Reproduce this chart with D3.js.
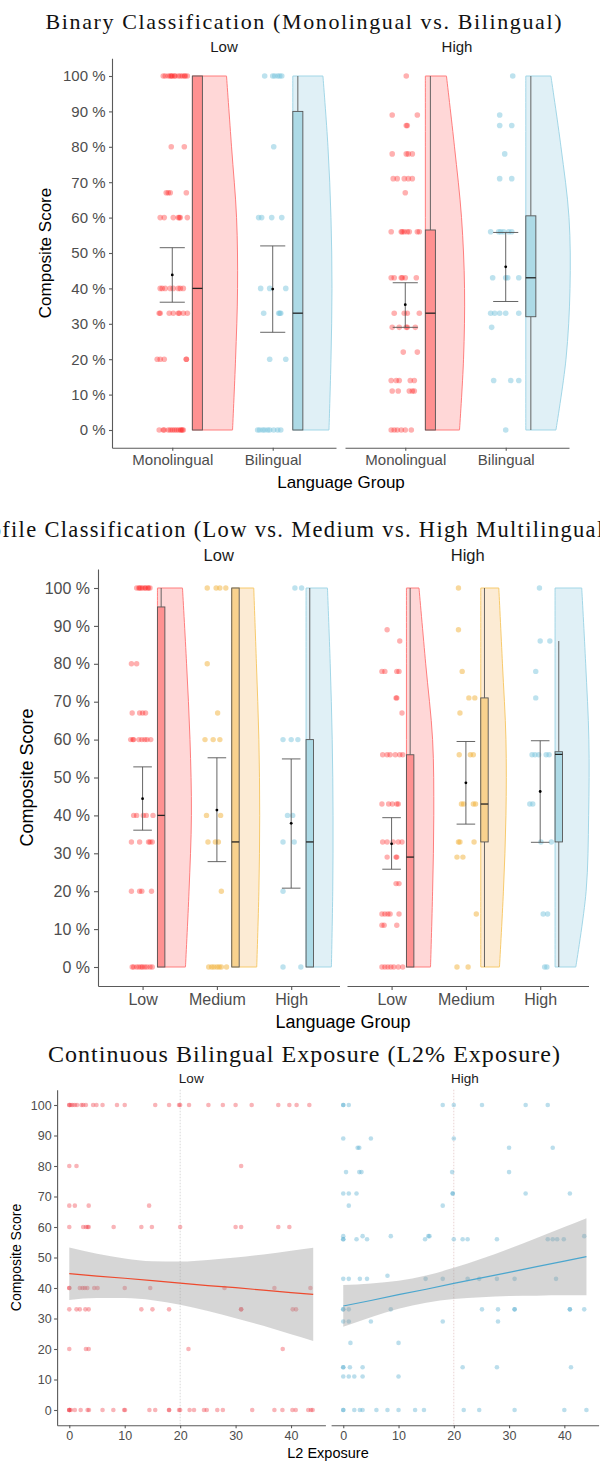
<!DOCTYPE html>
<html>
<head>
<meta charset="utf-8">
<script src="https://cdn.jsdelivr.net/npm/d3@7"></script>
<style>
  body { margin: 0; background: #fff; }
  svg { display: block; }
</style>
</head>
<body>
<svg id="chart" width="600" height="1463"></svg>
<script>
// ---------------- data ----------------
const facets = ["Low", "High"];
const binaryGroups = ["Monolingual", "Bilingual"];
const profileGroups = ["Low", "Medium", "High"];
const scoreTicks = [0, 10, 20, 30, 40, 50, 60, 70, 80, 90, 100];
const exposureTicks = [0, 10, 20, 30, 40];

// Box statistics per group: [lower whisker, Q1, median, Q3, upper whisker]
const binaryBoxLow  = [[0, 0, 40, 100, 100], [0, 0, 33, 90, 100]];
const binaryBoxHigh = [[0, 0, 33, 56.5, 100], [0, 32, 43, 60.5, 100]];
const profileBoxLow  = [[0, 0, 40, 95, 100], [0, 0, 33, 100, 100], [0, 0, 33, 60, 100]];
const profileBoxHigh = [[0, 0, 29, 56, 100], [0, 33, 43, 71, 100], [0, 33, 56.1, 56.8, 86]];

// Mean with interval per group: [mean, lower, upper]
const binaryMeanLow  = [[43.8, 36.1, 51.5], [39.8, 27.6, 52.0]];
const binaryMeanHigh = [[35.4, 29.0, 41.6], [46.1, 36.3, 55.8]];
const profileMeanLow  = [[44.4, 36.1, 52.8], [41.4, 27.8, 55.2], [37.9, 20.8, 54.9]];
const profileMeanHigh = [[32.5, 25.8, 39.4], [48.6, 37.7, 59.5], [46.3, 32.9, 59.7]];

// Half-violin density width (category units) at each score level
const violinLevels = [0, 20, 40, 60, 80, 100];
const binaryViolinLow  = [[.40, .43, .45, .44, .39, .34], [.36, .38, .39, .38, .35, .30]];
const binaryViolinHigh = [[.34, .38, .39, .36, .29, .21], [.30, .40, .44, .43, .35, .25]];
const profileViolinLow  = [[.377, .425, .457, .438, .392, .337], [.336, .365, .376, .365, .332, .296], [.341, .359, .363, .352, .325, .288]];
const profileViolinHigh = [[.324, .352, .368, .352, .259, .169], [.252, .305, .339, .339, .292, .243], [.279, .418, .452, .455, .412, .359]];

// Observations: score -> horizontal jitter of each point (category units)
const binaryPtsLow = [
  {100: [-.09, -.07, -.04, -.02, -.01, 0, .02, .03, .06, .08, .10, .12, .13, .15], 80: [-.01, .12], 67: [-.06, -.04, -.02, .14],
   60: [-.12, -.08, .01, .06, .07, .08, .15], 40: [-.12, -.10, -.07, -.02, .01, .06, .08, .11], 33: [-.13, -.12, -.03, .01, .06, .07, .11, .15],
   20: [-.15, -.12, -.08, .14, .14], 0: [-.13, -.09, -.08, -.04, -.02, 0, .02, .04, .06, .08, .09, .10, .11]},
  {100: [-.08, 0, .02, .05, .07, .09], 80: [.01], 60: [-.14, -.11, -.01, .09], 40: [-.12, -.03, .13], 33: [-.09, .06, .07, .08],
   20: [-.03, .13], 0: [-.15, -.13, -.10, -.08, -.05, -.03, .01, .05, .08]}
];
const binaryPtsHigh = [
  {100: [.01], 89: [-.13, .12], 86: [.01, .02], 78: [-.13, .01, .03, .07], 71: [-.12, -.08, -.01, .03, .07], 67: [0],
   56: [-.14, -.04, -.03, -.01, .02, .04, .12, .14], 43: [-.14, -.11, -.04, -.03, 0, .11], 33: [-.11, -.01, .02, .14],
   29: [-.13, -.06, .01, .02, .10], 22: [-.02, .12], 14: [-.14, -.09, -.06, .05, .09], 11: [-.13, -.07, .04, .07, .09],
   0: [-.14, -.11, -.08, -.04, 0, .06]},
  {100: [.07], 89: [-.06], 86: [-.06, .06], 78: [-.01], 71: [-.06, .06], 56: [-.15, -.07, -.05, -.02, .03, .06],
   43: [-.13, 0, .02, .13], 33: [-.15, -.11, -.06, 0, .13], 29: [-.14], 14: [-.12, .05, .13], 0: [0]}
];
const profilePtsLow = [
  {100: [-.08, -.05, -.04, -.02, 0, .03, .04, .07, .08, .10], 80: [-.15, -.08], 67: [-.14, -.04, 0, .04],
   60: [-.16, -.13, -.12, -.05, -.01, .03, .06, .11], 40: [-.12, -.08, .01, .05, .14], 33: [-.15, -.04, .08, .10, .13],
   20: [-.15, -.04, -.01, .12], 0: [-.14, -.12, -.08, -.05, -.02, 0, .03, .06, .10, .13]},
  {100: [-.13, -.01, .04, .12], 80: [-.13], 67: [.01], 60: [-.16, -.05, .04], 40: [-.14, .05], 33: [-.12, -.02, .02],
   20: [.06], 0: [-.11, -.07, -.04, 0, .03, .06, .13]},
  {100: [.05, .14], 60: [-.11, 0, .09], 40: [-.05, .02], 33: [-.11, .04], 20: [-.11], 0: [-.11, .13]}
];
const profilePtsHigh = [
  {89: [-.06], 86: [.11], 78: [-.13, -.09, .07, .10], 71: [.06, .07], 67: [.14], 56: [-.12, -.06, -.02, .05, .11, .15],
   43: [-.13, -.04, .01, .07, .09], 33: [-.12, -.06, .02, .09, .14], 29: [-.06, .06, .07], 22: [.06, .10],
   14: [-.13, -.09, -.05, -.02, .10], 11: [-.13, -.10, .07], 0: [-.13, -.09, -.05, -.01, .03, .09, .15]},
  {100: [-.10], 89: [-.10], 78: [-.05], 71: [.04, .12], 67: [-.08], 56: [-.09, .06, .10], 43: [-.06, -.03, .10, .13],
   33: [-.10, -.08, .11], 29: [-.12, -.04], 14: [.14], 0: [-.12, .03]},
  {100: [-.01], 86: [0, .13], 78: [-.06], 71: [-.06], 56: [-.11, -.07, -.02, .08, .12], 43: [-.14, -.10], 33: [.01, .15],
   14: [.04, .10], 0: [.06, .09]}
];

// L2 exposure scatter: score -> exposure values
const exposureLow = {
  100: [0, 0, 0.3, 0.6, 1.0, 1.4, 2.2, 2.5, 3.0, 4.3, 4.9, 6.0, 8.6, 10, 15.5, 18, 19.8, 20, 21.6, 25.1, 27.7, 30, 32.9, 37.7, 39.7, 41, 43.3],
  80: [0, 1.3, 31],
  67: [0, 1, 3.5, 14.4],
  60: [0, 2.5, 3, 3.3, 3.5, 8, 13, 14.9, 20, 30, 31, 37.7, 39.7],
  40: [0, 0, 1.9, 2.4, 2.8, 3.25, 4.5, 5.1, 10, 14.6, 28, 37, 43.5],
  33: [0, 1.3, 1.9, 2.9, 3.5, 13, 15, 18, 31, 31, 40.3, 40.9],
  20: [0, 3, 3.5, 21.5, 38.5],
  0: [0, 0, 0, 0.3, 1, 2.05, 3.3, 3.55, 6, 7.95, 9.9, 10.05, 14.45, 15.5, 18, 18, 19.8, 20, 21.7, 22.5, 24.3, 24.8, 26.7, 27.7, 33, 37, 38.45, 40.25, 40.85, 43.1, 43.6, 43.9]
};
const exposureHigh = {
  100: [0, 0, 1.0, 18, 20, 25.1, 33, 37],
  89: [0, 5, 20],
  86: [2.6, 2.9, 30, 37.9],
  78: [0.5, 2.9, 3.3, 19.7, 30],
  71: [0, 1, 2.4, 19.8, 19.8, 33, 41],
  67: [1, 18],
  57: [0, 3.5, 8.6, 15.4, 15.6, 43.6],
  56: [0, 0, 2.4, 4.3, 14.8, 20, 21.6, 22.5, 27.8, 37, 37.9, 38.7, 39.9],
  44: [8],
  43: [0, 1, 3.0, 4.3, 14.9, 18, 22.5, 24.6, 27.8, 31, 38.5],
  33: [0, 0, 1, 8.6, 25.1, 28, 31, 31, 41, 41, 43.6],
  29: [0, 1, 5, 18, 28],
  22: [1.3, 10],
  14: [0, 0, 1.2, 3.5, 21.6, 27.8, 41.2],
  11: [0, 1, 2, 3.5, 10],
  0: [0, 0, 2, 3, 3.5, 6, 8, 10, 13, 14.6, 21.8, 24.6, 31, 40, 44]
};

// Linear fit with 95% band, evaluated along exposure
const fitX = [0, 5, 10, 15, 20, 25, 30, 35, 40, 44];
const fitLowLine = [44.7, 43.9, 43.2, 42.4, 41.6, 40.8, 40.1, 39.3, 38.5, 37.9];
const fitLowLo   = [36.1, 36.7, 36.7, 36.0, 34.5, 32.5, 30.1, 27.6, 24.8, 22.6];
const fitLowHi   = [53.3, 51.2, 49.7, 48.8, 48.7, 49.2, 50.0, 51.0, 52.2, 53.2];
const fitHighLine = [34.1, 35.9, 37.8, 39.6, 41.5, 43.3, 45.1, 47.0, 48.8, 50.3];
const fitHighLo   = [27.3, 30.4, 33.2, 35.2, 36.4, 37.0, 37.4, 37.5, 37.6, 37.6];
const fitHighHi   = [41.0, 41.5, 42.4, 44.1, 46.6, 49.6, 52.9, 56.4, 60.0, 62.9];

// ---------------- drawing ----------------
const SANS = "'Liberation Sans', Arial, Helvetica, sans-serif";
const SERIF = "'Liberation Serif', 'Times New Roman', serif";
const svg = d3.select("#chart");

const palette = {
  red:    { pt: "#FF1E1E", ptOp: 0.35, box: "#FF9191", vio: "#FFD7D7", edge: "#FF7070" },
  orange: { pt: "#F2B23A", ptOp: 0.5,  box: "#F8D28E", vio: "#FCEBD4", edge: "#F6C55E" },
  blue:   { pt: "#7CC5DE", ptOp: 0.5,  box: "#ADDAE6", vio: "#E0F0F6", edge: "#98D2E4" }
};

function styleAxis(sel, fs) {
  sel.select(".domain").attr("stroke", "#5a5a5a").attr("stroke-width", 1.1);
  sel.selectAll(".tick line").attr("stroke", "#5a5a5a").attr("stroke-width", 1.1);
  sel.selectAll(".tick text").attr("fill", "#4D4D4D").attr("font-size", fs).attr("font-family", SANS);
}

function title(txt, cx, y, size, len) {
  svg.append("text").attr("x", cx).attr("y", y).attr("text-anchor", "middle")
    .attr("font-family", SERIF).attr("font-size", size).attr("fill", "#111")
    .attr("textLength", len).attr("lengthAdjust", "spacing").text(txt);
}

function axisTitleX(txt, cx, y, size) {
  svg.append("text").attr("x", cx).attr("y", y).attr("text-anchor", "middle")
    .attr("font-family", SANS).attr("font-size", size).attr("fill", "#000").text(txt);
}
function axisTitleY(txt, x, cy, size) {
  svg.append("text").attr("transform", `translate(${x},${cy}) rotate(-90)`).attr("text-anchor", "middle")
    .attr("font-family", SANS).attr("font-size", size).attr("fill", "#000").text(txt);
}

function raincloud(o) {
  const span = o.y0 - o.y100;
  const y = d3.scaleLinear().domain([-5, 105]).range([o.y0 + span * 0.05, o.y100 - span * 0.05]);
  const n = o.groups.length;
  o.facets.forEach((f, fi) => {
    const x = d3.scaleLinear().domain(o.xDomain).range(f.xRange);
    const u = x(2) - x(1);
    const g = svg.append("g");

    g.append("text").attr("x", (f.xRange[0] + f.xRange[1]) / 2).attr("y", o.stripY)
      .attr("text-anchor", "middle").attr("font-family", SANS).attr("font-size", o.stripSize)
      .attr("fill", "#1a1a1a").text(facets[fi]);

    o.groups.forEach((name, i) => {
      const c = x(i + 1), col = o.cols[i];
      const flat = c + 0.2 * u;

      // half violin
      const vio = violinLevels.map((lv, k) => [lv, f.violin[i][k]]);
      g.append("path").datum(vio)
        .attr("d", d3.area().curve(d3.curveCatmullRom).y(d => y(d[0])).x0(flat).x1(d => flat + d[1] * u))
        .attr("fill", col.vio).attr("stroke", col.edge).attr("stroke-width", 0.9);

      // box plot
      const [lo, q1, med, q3, hi] = f.box[i];
      const bx0 = c + 0.2 * u, bx1 = c + 0.3 * u, bxm = c + 0.25 * u;
      g.append("line").attr("x1", bxm).attr("x2", bxm).attr("y1", y(q3)).attr("y2", y(hi))
        .attr("stroke", "#555").attr("stroke-width", 0.9);
      g.append("line").attr("x1", bxm).attr("x2", bxm).attr("y1", y(q1)).attr("y2", y(lo))
        .attr("stroke", "#555").attr("stroke-width", 0.9);
      g.append("rect").attr("x", bx0).attr("width", bx1 - bx0).attr("y", y(q3)).attr("height", y(q1) - y(q3))
        .attr("fill", col.box).attr("stroke", "#555").attr("stroke-width", 0.9);
      g.append("line").attr("x1", bx0).attr("x2", bx1).attr("y1", y(med)).attr("y2", y(med))
        .attr("stroke", "#222").attr("stroke-width", 1.3);

      // jittered observations
      const pts = Object.entries(f.pts[i]).flatMap(([s, js]) => js.map(j => [j, +s]));
      g.selectAll(null).data(pts).join("circle")
        .attr("cx", d => c + d[0] * u).attr("cy", d => y(d[1])).attr("r", o.r)
        .attr("fill", col.pt).attr("fill-opacity", col.ptOp);

      // mean with interval
      const [m, mlo, mhi] = f.mean[i];
      const cap = 0.125 * u;
      g.append("line").attr("x1", c).attr("x2", c).attr("y1", y(mlo)).attr("y2", y(mhi))
        .attr("stroke", "#555").attr("stroke-width", 0.9);
      [mlo, mhi].forEach(v => g.append("line").attr("x1", c - cap).attr("x2", c + cap)
        .attr("y1", y(v)).attr("y2", y(v)).attr("stroke", "#555").attr("stroke-width", 0.9));
      g.append("circle").attr("cx", c).attr("cy", y(m)).attr("r", 1.4).attr("fill", "#000");
    });

    const ax = g.append("g").attr("transform", `translate(0,${y(-5)})`)
      .call(d3.axisBottom(x).tickValues(d3.range(1, n + 1)).tickFormat(d => o.groups[d - 1])
        .tickSize(o.tick).tickPadding(o.pad).tickSizeOuter(0));
    styleAxis(ax, o.tickFont);

    if (fi === 0) {
      const ay = g.append("g").attr("transform", `translate(${f.xRange[0]},0)`)
        .call(d3.axisLeft(y).tickValues(scoreTicks).tickFormat(d => d + " %")
          .tickSize(o.tick).tickPadding(o.pad).tickSizeOuter(0));
      styleAxis(ay, o.tickFont);
    }
  });
}

// ---- Binary classification ----
title("Binary Classification (Monolingual vs. Bilingual)", 303.5, 28.5, 22, 516);
raincloud({
  groups: binaryGroups, cols: [palette.red, palette.blue],
  y0: 430, y100: 76, xDomain: [0.4, 2.63], stripY: 52, stripSize: 15, tickFont: 15,
  tick: 3, pad: 3.5, r: 2.8,
  facets: [
    { xRange: [112, 336], box: binaryBoxLow, mean: binaryMeanLow, violin: binaryViolinLow, pts: binaryPtsLow },
    { xRange: [345, 569], box: binaryBoxHigh, mean: binaryMeanHigh, violin: binaryViolinHigh, pts: binaryPtsHigh }
  ]
});
axisTitleX("Language Group", 341, 488, 17);
axisTitleY("Composite Score", 51, 253, 17);

// ---- Profile classification ----
title("Profile Classification (Low vs. Medium vs. High Multilingual)", 289.5, 537, 22.5, 645);
raincloud({
  groups: profileGroups, cols: [palette.red, palette.orange, palette.blue],
  y0: 967, y100: 588, xDomain: [0.4, 3.65], stripY: 561, stripSize: 16.5, tickFont: 16,
  tick: 4, pad: 4, r: 2.7,
  facets: [
    { xRange: [98, 339.5], box: profileBoxLow, mean: profileMeanLow, violin: profileViolinLow, pts: profilePtsLow },
    { xRange: [347, 588.5], box: profileBoxHigh, mean: profileMeanHigh, violin: profileViolinHigh, pts: profilePtsHigh }
  ]
});
axisTitleX("Language Group", 343, 1028, 18);
axisTitleY("Composite Score", 33, 777.5, 18);

// ---- Continuous exposure ----
title("Continuous Bilingual Exposure (L2% Exposure)", 304, 1062, 24, 512);
(function exposure() {
  const span = 1410 - 1105;
  const y = d3.scaleLinear().domain([-5, 105]).range([1410 + span * 0.05, 1105 - span * 0.05]);
  const panels = [
    { xRange: [57.1, 325.4], pts: exposureLow, line: fitLowLine, lo: fitLowLo, hi: fitLowHi,
      pt: "#EE3A44", stroke: "#EE4A2E", ref: "#cfcfcf" },
    { xRange: [331.1, 598.6], pts: exposureHigh, line: fitHighLine, lo: fitHighLo, hi: fitHighHi,
      pt: "#4BA8CC", stroke: "#4AA6CE", ref: "#e2c6c6" }
  ];
  panels.forEach((p, pi) => {
    const x = d3.scaleLinear().domain([-2.2, 46.2]).range(p.xRange);
    const g = svg.append("g");
    g.append("text").attr("x", (p.xRange[0] + p.xRange[1]) / 2).attr("y", 1083)
      .attr("text-anchor", "middle").attr("font-family", SANS).attr("font-size", 13.5)
      .attr("fill", "#1a1a1a").text(facets[pi]);

    g.append("line").attr("x1", x(20)).attr("x2", x(20)).attr("y1", y(105)).attr("y2", y(-5))
      .attr("stroke", p.ref).attr("stroke-width", 0.8).attr("stroke-dasharray", "1.5,1.5");

    const pts = Object.entries(p.pts).flatMap(([s, xs]) => xs.map(v => [v, +s]));
    g.selectAll(null).data(pts).join("circle")
      .attr("cx", d => x(d[0])).attr("cy", d => y(d[1])).attr("r", 2.3)
      .attr("fill", p.pt).attr("fill-opacity", 0.38);

    const band = fitX.map((v, k) => [v, p.lo[k], p.hi[k]]);
    g.append("path").datum(band)
      .attr("d", d3.area().curve(d3.curveMonotoneX).x(d => x(d[0])).y0(d => y(d[1])).y1(d => y(d[2])))
      .attr("fill", "#999").attr("fill-opacity", 0.4);
    g.append("path").datum(fitX.map((v, k) => [v, p.line[k]]))
      .attr("d", d3.line().x(d => x(d[0])).y(d => y(d[1])))
      .attr("fill", "none").attr("stroke", p.stroke).attr("stroke-width", 1.2);

    const ax = g.append("g").attr("transform", `translate(0,${y(-5)})`)
      .call(d3.axisBottom(x).tickValues(exposureTicks).tickSize(3).tickPadding(3).tickSizeOuter(0));
    styleAxis(ax, 12.5);
    if (pi === 0) {
      const ay = g.append("g").attr("transform", `translate(${p.xRange[0]},0)`)
        .call(d3.axisLeft(y).tickValues(scoreTicks).tickSize(3).tickPadding(2.5).tickSizeOuter(0));
      styleAxis(ay, 12.5);
    }
  });
  axisTitleX("L2 Exposure", 328, 1458, 14.5);
  axisTitleY("Composite Score", 21, 1257.5, 14);
})();
</script>
</body>
</html>
